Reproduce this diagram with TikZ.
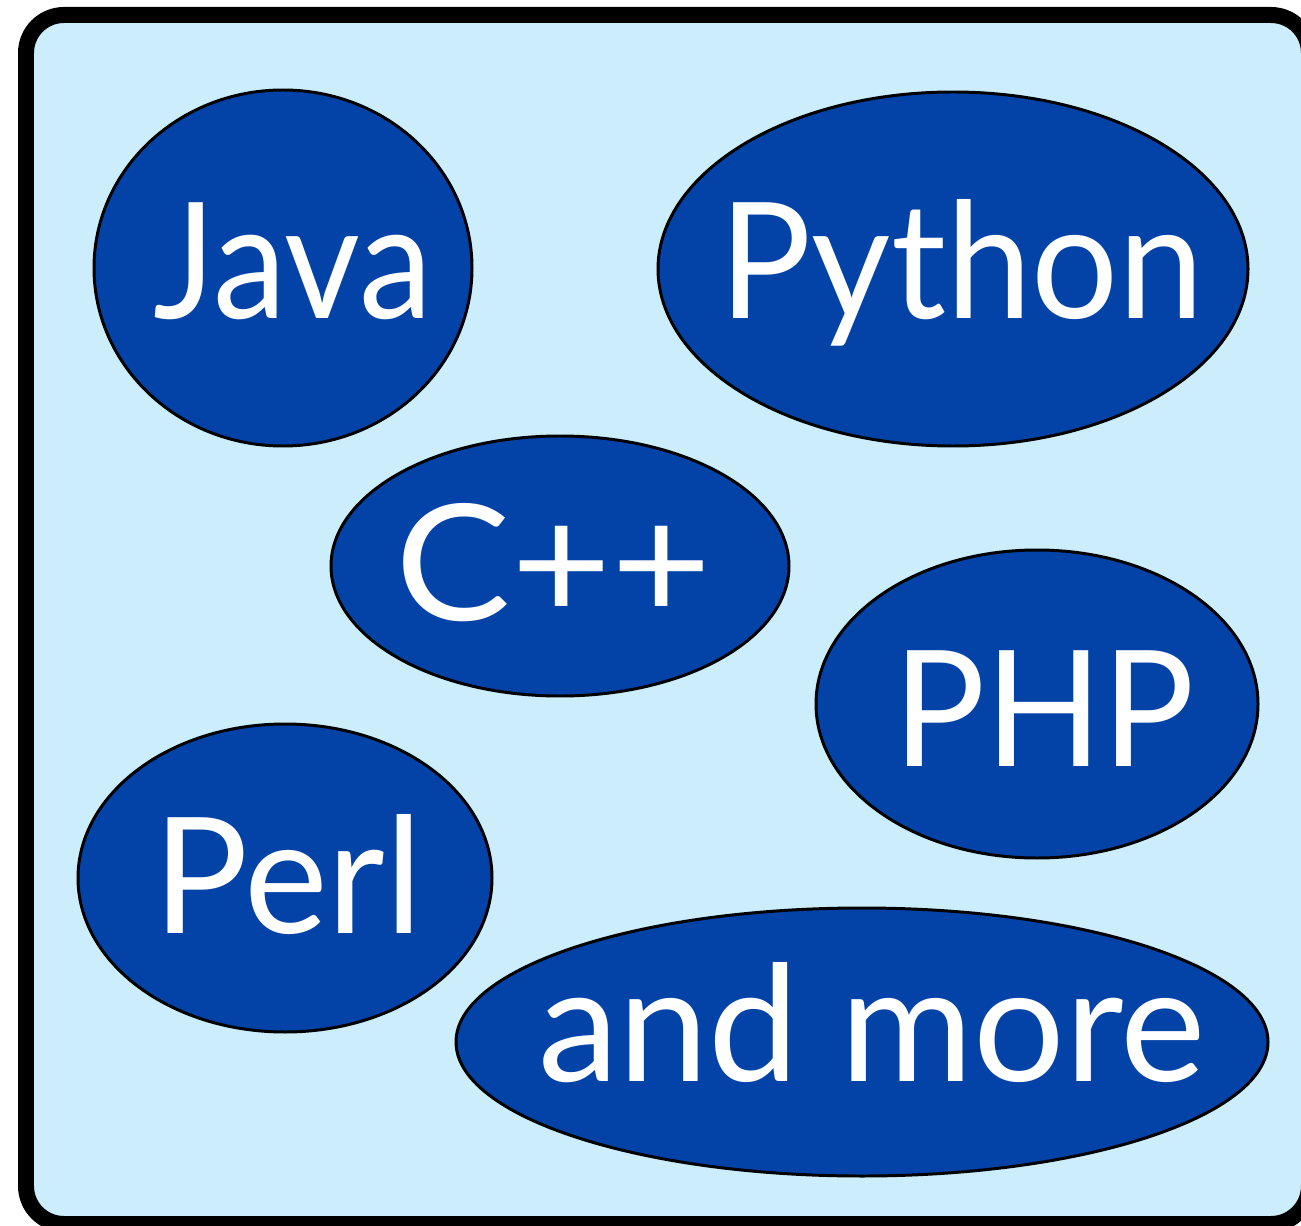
\documentclass[tikz,border=0pt]{standalone}
\usepackage{fontspec}
\setmainfont{Lato}
\usetikzlibrary{shapes.geometric}
\definecolor{bgblue}{HTML}{CCEEFC}
\definecolor{langblue}{HTML}{0343A8}
\tikzset{
  lang/.style={ellipse, draw=black, line width=1.7pt, fill=langblue, inner sep=0pt},
  langtext/.style={font=\fontsize{92}{92}\selectfont, text=white, anchor=base, inner sep=0pt},
}
\begin{document}
\begin{tikzpicture}[x=0.02cm,y=-0.02cm]
\useasboundingbox (0,0) rectangle (1301,1226);
\draw[line width=0.32cm, fill=bgblue, rounded corners=0.76cm] (26,15) rectangle (1309,1224);
\node[lang, minimum width=378*0.02cm, minimum height=356*0.02cm] (java) at (283,268) {};
\node[langtext] (javat) at (293,318) {\scalebox{0.91}[1]{Java}};
\node[lang, minimum width=590*0.02cm, minimum height=354*0.02cm] (python) at (953,269) {};
\node[langtext] (pythont) at (962,318) {\scalebox{0.95}[1]{Python}};
\node[lang, minimum width=458*0.02cm, minimum height=260*0.02cm] (cpp) at (560,566) {};
\node[langtext] (cppt) at (554,620) {\scalebox{1.07}[1]{C++}};
\node[lang, minimum width=442*0.02cm, minimum height=308*0.02cm] (php) at (1037,704) {};
\node[langtext] (phpt) at (1044,766) {\scalebox{0.95}[1]{PHP}};
\node[lang, minimum width=414*0.02cm, minimum height=308*0.02cm] (perl) at (285,878) {};
\node[langtext] (perlt) at (288,933) {\scalebox{0.98}[1]{Perl}};
\node[lang, minimum width=812*0.02cm, minimum height=268*0.02cm] (more) at (862,1042) {};
\node[langtext] (moret) at (872,1081) {and more};
\end{tikzpicture}
\end{document}
